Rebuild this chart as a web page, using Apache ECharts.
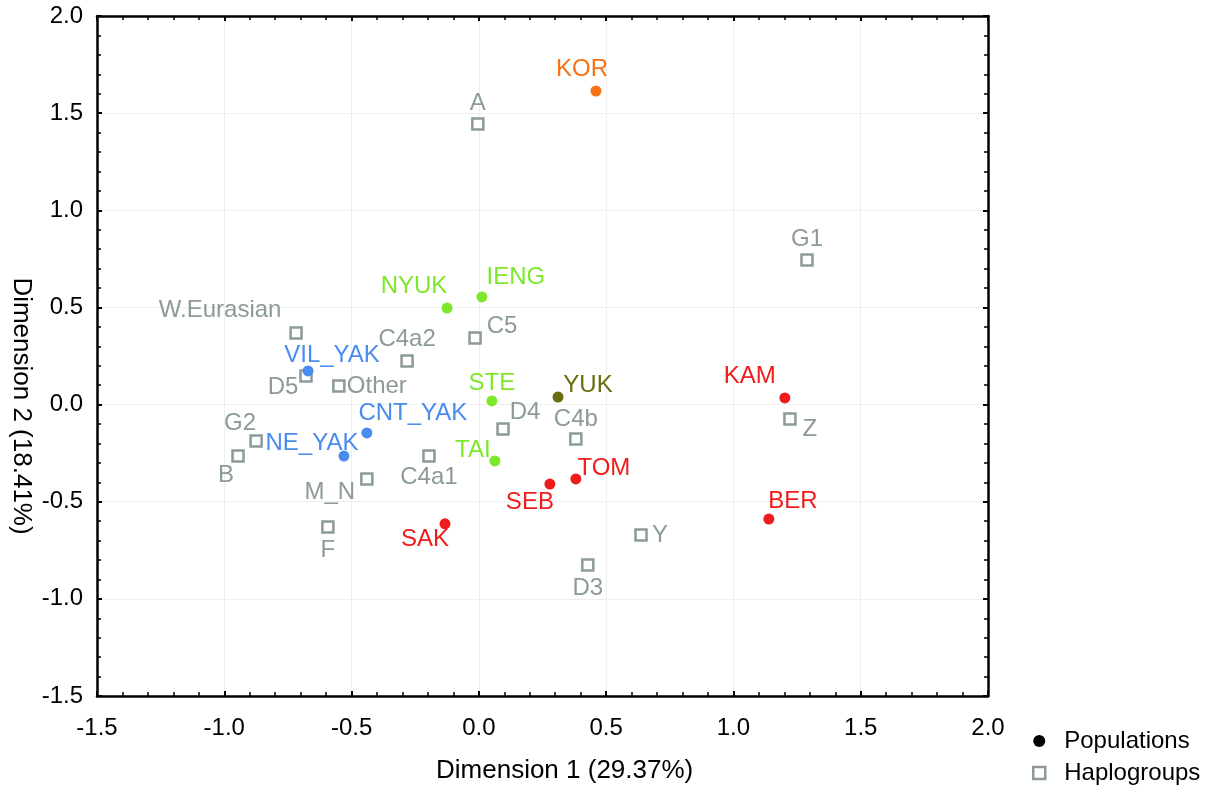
<!DOCTYPE html>
<html>
<head>
<meta charset="utf-8">
<script src="https://cdn.jsdelivr.net/npm/echarts@6/dist/echarts.min.js"></script>
<style>
html,body{margin:0;padding:0;background:#fff;}
#chart{width:1219px;height:788px;}
</style>
</head>
<body>
<div id="chart"></div>
<script>
// ---- Data ----
const popNames = ['KOR','NYUK','IENG','VIL_YAK','CNT_YAK','NE_YAK','STE','YUK','TAI','TOM','SEB','SAK','KAM','BER'];
const popX = [0.46,-0.125,0.012,-0.671,-0.44,-0.53,0.051,0.311,0.063,0.381,0.279,-0.133,1.202,1.139];
const popY = [1.614,0.497,0.554,0.173,-0.146,-0.265,0.019,0.039,-0.29,-0.383,-0.409,-0.614,0.034,-0.589];
const popGroup = ['orange','green','green','blue','blue','blue','green','olive','green','red','red','red','red','red'];

const hapNames = ['A','G1','W.Eurasian','C5','C4a2','D5','Other','D4','C4b','Z','G2','B','C4a1','M_N','F','Y','D3'];
const hapX = [-0.004,1.289,-0.718,-0.015,-0.282,-0.679,-0.55,0.095,0.381,1.222,-0.875,-0.946,-0.196,-0.44,-0.593,0.637,0.428];
const hapY = [1.444,0.744,0.369,0.343,0.224,0.147,0.096,-0.126,-0.177,-0.074,-0.187,-0.265,-0.265,-0.383,-0.63,-0.671,-0.826];

const seriesNames = ['Populations','Haplogroups'];
const xName = 'Dimension 1 (29.37%)';
const yName = 'Dimension 2 (18.41%)';

// ---- Styles ----
const groupColors = {orange:'#F57216', green:'#7DE82B', blue:'#4A8BEE', olive:'#6B6B10', red:'#EE1C1C'};
const hapColor = '#8C9A9A';
const FONT = "'Liberation Sans', Arial, sans-serif";
const labelOffsets = {
  KOR:[-14,-22], NYUK:[-33,-22], IENG:[34,-20], VIL_YAK:[24,-16], CNT_YAK:[46,-20], NE_YAK:[-32,-13],
  STE:[0,-18], YUK:[30,-12], TAI:[-22,-11], TOM:[28,-11], SEB:[-20,18], SAK:[-20,16], KAM:[-35,-22], BER:[24,-18],
  'A':[0,-21], G1:[0,-21], 'W.Eurasian':[-76,-23], C5:[27,-12], C4a2:[0,-22], D5:[-23,11], Other:[38,0],
  D4:[22,-17], C4b:[0,-20], Z:[20,10], G2:[-16,-18], B:[-12,19], C4a1:[0,21], M_N:[-37,13], F:[0,23], Y:[19,0], D3:[0,23]
};

const popData = popNames.map((n,i)=>({
  name:n, value:[popX[i],popY[i]],
  itemStyle:{color:groupColors[popGroup[i]]},
  label:{color:groupColors[popGroup[i]], offset:labelOffsets[n]}
}));
const hapData = hapNames.map((n,i)=>({
  name:n, value:[hapX[i],hapY[i]],
  label:{offset:labelOffsets[n]}
}));

function axisCommon(showLabel){
  return {
    type:'value', min:-1.5, max:2, interval:0.5,
    axisLine:{show:true, onZero:false, lineStyle:{color:'#000', width:2.5}},
    axisTick:{show:true, inside:true, length:5, lineStyle:{color:'#000', width:2}},
    minorTick:{show:true, splitNumber:5, length:4, lineStyle:{color:'#000', width:1.5}},
    splitLine:{show:showLabel, lineStyle:{color:'#EFEFEF', width:1}},
    axisLabel:{show:showLabel, color:'#000', fontFamily:FONT, fontSize:24,
      formatter:v=>v.toFixed(1)}
  };
}

const chart = echarts.init(document.getElementById('chart'), null, {renderer:'canvas'});
const xBottom = axisCommon(true); xBottom.position='bottom'; xBottom.axisLabel.margin=20;
const xTop = axisCommon(false); xTop.position='top';
const yLeft = axisCommon(true); yLeft.position='left'; yLeft.axisLabel.margin=14;
const yRight = axisCommon(false); yRight.position='right';

chart.setOption({
  animation:false,
  backgroundColor:'#fff',
  grid:{left:97, top:16, width:891, height:680},
  xAxis:[xBottom, xTop],
  yAxis:[yLeft, yRight],
  legend:{
    orient:'vertical', left:1032, top:728, height:64, padding:0, itemGap:6, itemWidth:12, itemHeight:12,
    textStyle:{color:'#000', fontFamily:FONT, fontSize:24, lineHeight:26, padding:[0,0,0,14]},
    data:[
      {name:seriesNames[0], icon:'circle', itemStyle:{color:'#000', opacity:1}},
      {name:seriesNames[1], icon:'rect', itemStyle:{color:'#fff', borderColor:hapColor, borderWidth:2.5, opacity:1}}
    ]
  },
  graphic:[
    {type:'text', left:436, top:758, style:{text:xName, fill:'#000', font:"26px 'Liberation Sans', Arial, sans-serif"}},
    {type:'text', x:21, y:406, rotation:-Math.PI/2, style:{text:yName, fill:'#000', font:"26px 'Liberation Sans', Arial, sans-serif", align:'center', verticalAlign:'middle'}}
  ],
  series:[
    {
      name:seriesNames[1], type:'scatter', symbol:'rect', symbolSize:11,
      itemStyle:{color:'#fff', borderColor:hapColor, borderWidth:2.5, opacity:1},
      label:{show:true, formatter:'{b}', position:'inside', color:hapColor, fontFamily:FONT, fontSize:24},
      data:hapData, z:2
    },
    {
      name:seriesNames[0], type:'scatter', symbol:'circle', symbolSize:11,
      itemStyle:{color:'#000', opacity:1},
      label:{show:true, formatter:'{b}', position:'inside', fontFamily:FONT, fontSize:24},
      data:popData, z:3
    }
  ]
});
</script>
</body>
</html>
